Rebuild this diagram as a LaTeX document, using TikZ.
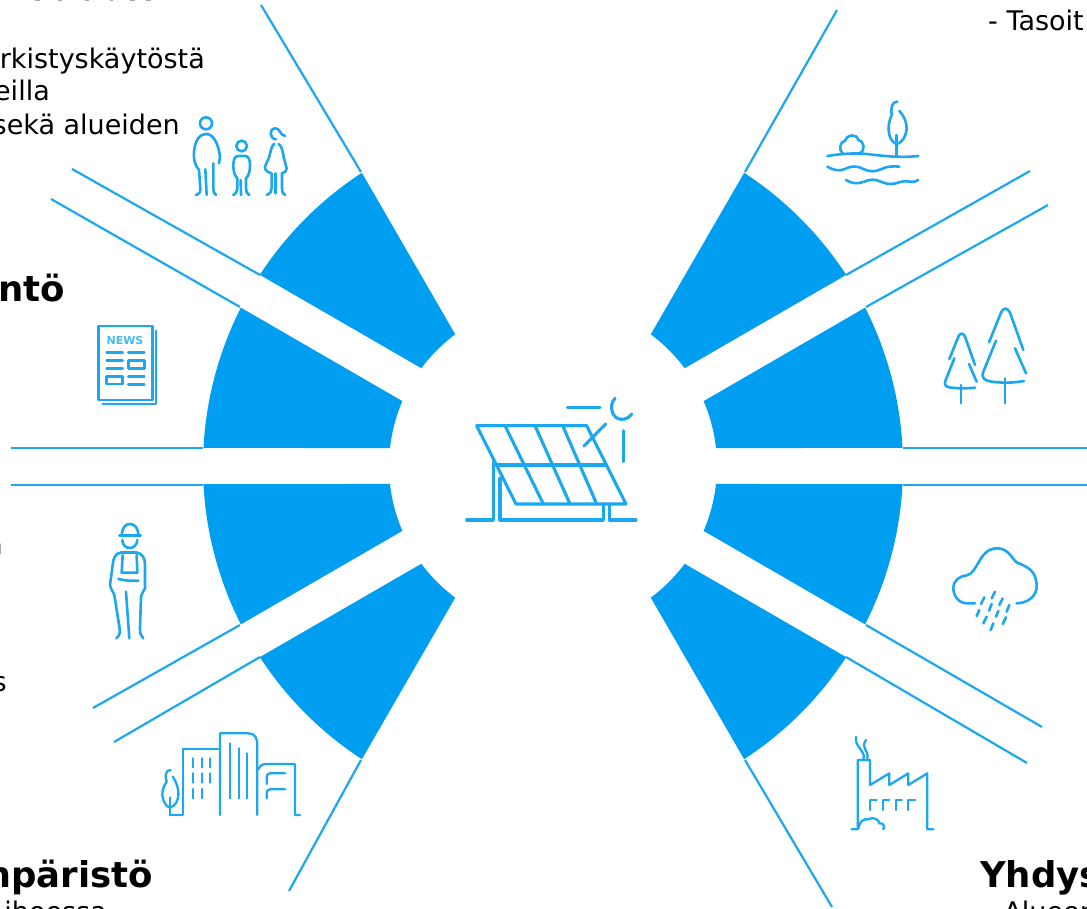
\documentclass[tikz,border=0pt]{standalone}
\usepackage{fontspec}
\setmainfont{DejaVu Sans}
\definecolor{wedgeblue}{RGB}{0,158,241}
\definecolor{lineblue}{RGB}{28,168,240}
\tikzset{
  ray/.style={draw=lineblue,line width=2.2pt},
  icon/.style={draw=lineblue,line width=2.6pt,line cap=round,line join=round},
  thinicon/.style={draw=lineblue,line width=2.3pt,line cap=round,line join=round},
  panelicon/.style={draw=lineblue,line width=3.1pt,line cap=round,line join=round},
  body/.style={inner sep=0pt,font=\fontsize{27}{27}\selectfont,text=black},
  head/.style={inner sep=0pt,font=\fontsize{35.5}{35.5}\selectfont\bfseries,text=black},
  z/.style={shift={#1},scale=0.33333}
}
\newcommand{\sectorpair}{%
  \fill[wedgeblue] plot[domain=213.1:236.9,samples=30] ({350*cos(\x)},{350*sin(\x)})
    -- plot[domain=233.4:216.6,samples=20] ({164*cos(\x)},{164*sin(\x)}) -- cycle;
  \fill[wedgeblue] plot[domain=182.95:206.9,samples=30] ({350*cos(\x)},{350*sin(\x)})
    -- plot[domain=203.3:186.3,samples=20] ({164*cos(\x)},{164*sin(\x)}) -- cycle;
}
\begin{document}
\begin{tikzpicture}[x=1pt,y=-1pt]
\clip (0,0) rectangle (1087,909);
\fill[white] (0,0) rectangle (1087,909);
% sectors
\begin{scope}[shift={(553,466)}]\sectorpair\end{scope}
\begin{scope}[shift={(553,466)},xscale=-1]\sectorpair\end{scope}
\begin{scope}[shift={(553,466)},yscale=-1]\sectorpair\end{scope}
\begin{scope}[shift={(553,466)},xscale=-1,yscale=-1]\sectorpair\end{scope}
% rays
\draw[ray] (361,172) -- (261,5);
\draw[ray] (260,275) -- (72,169);
\draw[ray] (240,307) -- (51,199);
\draw[ray] (203,448) -- (11,448);
\draw[ray] (203,485) -- (11,485);
\draw[ray] (240,625) -- (93,708);
\draw[ray] (260,657) -- (114,742);
\draw[ray] (361,760) -- (289,891);
\draw[ray] (745,172) -- (837,10);
\draw[ray] (846,275) -- (1030,171);
\draw[ray] (866,307) -- (1048,205);
\draw[ray] (903,448) -- (1087,448);
\draw[ray] (903,485) -- (1087,485);
\draw[ray] (866,625) -- (1042,727);
\draw[ray] (846,657) -- (1027,763);
\draw[ray] (745,760) -- (832,907);
% solar panel
\begin{scope}[z={(440,380)}]
\draw[panelicon] (110,137) -- (440,137) -- (558,372) -- (228,372) -- cycle;
\draw[panelicon] (168,255) -- (498,255);
\draw[panelicon] (195,137) -- (310,372) (285,137) -- (390,372) (368,137) -- (470,372);
\draw[panelicon] (80,420) -- (160,420) -- (160,245);
\draw[panelicon] (180,295) -- (180,420) -- (490,420) -- (490,372);
\draw[panelicon] (508,372) -- (508,420) -- (588,420);
\draw[panelicon] (382,82) -- (480,82);
\draw[panelicon] (525,55) .. controls (505,75) and (515,118) .. (545,118) .. controls (558,118) and (568,112) .. (575,102);
\draw[panelicon] (497,132) -- (432,198);
\draw[panelicon] (550,152) -- (550,245);
\end{scope}
% people
\begin{scope}[z={(0,0)}]
\draw[icon] (618,370) circle (18);
\draw[icon] (588,585) .. controls (598,582) and (602,575) .. (601,565) -- (597,510) .. controls (585,495) and (580,480) .. (582,455) .. controls (585,420) and (600,402) .. (618,402) .. controls (640,402) and (655,430) .. (660,470) -- (657,490);
\draw[icon] (640,490) -- (640,565) .. controls (640,575) and (642,582) .. (648,585);
\draw[icon] (616,508) -- (620,585);
\draw[icon] (725,438) circle (16);
\draw[icon] (700,585) .. controls (708,582) and (712,575) .. (712,565) -- (712,535) .. controls (702,525) and (700,510) .. (700,495) .. controls (700,478) and (705,468) .. (715,468) -- (735,468) .. controls (745,468) and (750,478) .. (750,495) .. controls (750,510) and (748,525) .. (738,535) -- (738,565) .. controls (738,575) and (740,582) .. (748,585);
\draw[icon] (722,540) -- (723,585);
\draw[icon] (828,418) .. controls (808,416) and (806,386) .. (826,385) .. controls (840,384) and (838,404) .. (855,408);
\draw[icon] (822,432) .. controls (812,440) and (812,460) .. (806,475) -- (795,500) .. controls (792,510) and (805,518) .. (815,520) -- (815,565) .. controls (815,575) and (810,582) .. (801,585);
\draw[icon] (836,432) .. controls (848,440) and (848,460) .. (852,475) -- (860,505) .. controls (860,512) and (855,518) .. (846,520) -- (846,565) .. controls (846,575) and (848,582) .. (855,585);
\draw[icon] (826,520) -- (826,580);
\end{scope}
% landscape
\begin{scope}[z={(800,0)}]
\draw[icon] (82,468) .. controls (120,462) and (160,458) .. (200,462) .. controls (250,468) and (300,474) .. (355,468);
\draw[icon] (128,460) .. controls (115,450) and (120,425) .. (135,422) .. controls (138,405) and (170,398) .. (175,420) .. controls (195,425) and (195,452) .. (180,460);
\draw[icon] (292,305) .. controls (275,305) and (272,325) .. (275,345) .. controls (268,360) and (262,385) .. (268,405) .. controls (272,420) and (282,430) .. (290,432) .. controls (305,430) and (318,410) .. (320,385) .. controls (320,365) and (310,345) .. (298,333);
\draw[icon] (290,405) -- (290,470);
\draw[icon] (82,500) .. controls (100,510) and (115,515) .. (135,507) .. controls (155,497) and (170,497) .. (190,507) .. controls (210,516) and (225,516) .. (245,507) .. controls (260,499) and (280,498) .. (298,500);
\draw[icon] (138,540) .. controls (155,550) and (170,553) .. (190,546) .. controls (210,537) and (225,537) .. (245,546) .. controls (265,554) and (280,554) .. (300,546) .. controls (320,538) and (340,553) .. (355,540);
\end{scope}
% trees
\begin{scope}[z={(920,290)}]
\draw[icon] (207,157) -- (243,68) .. controls (250,52) and (262,52) .. (270,68) -- (310,180);
\draw[icon] (228,152) -- (190,245) .. controls (182,265) and (195,272) .. (215,275) .. controls (250,280) and (285,278) .. (312,273);
\draw[icon] (285,175) -- (318,250);
\draw[icon] (255,265) -- (255,340);
\draw[icon] (88,207) -- (115,140) .. controls (120,128) and (130,128) .. (135,140) -- (165,225);
\draw[icon] (103,205) -- (77,270) .. controls (70,288) and (80,292) .. (95,293) .. controls (120,296) and (145,295) .. (165,293);
\draw[icon] (147,222) -- (170,275);
\draw[icon] (123,285) -- (123,340);
\end{scope}
% cloud
\begin{scope}[z={(920,530)}]
\draw[icon] (165,220) -- (140,220) .. controls (115,220) and (100,195) .. (100,175) .. controls (100,150) and (120,138) .. (140,136) .. controls (175,130) and (175,55) .. (232,55) .. controls (265,55) and (275,85) .. (290,97) .. controls (320,110) and (350,120) .. (350,170) .. controls (350,200) and (320,220) .. (290,220);
\draw[icon] (225,185) -- (215,205) (193,202) -- (183,222) (248,205) -- (238,225)
 (215,222) -- (207,242) (178,240) -- (170,258) (268,225) -- (260,245)
 (235,243) -- (228,260) (200,260) -- (190,280) (258,262) -- (248,282) (220,280) -- (212,300);
\end{scope}
% factory
\begin{scope}[z={(830,720)}]
\draw[thinicon] (65,328) -- (83,328) -- (83,120) -- (120,120) -- (120,195) -- (178,160) -- (178,195) -- (235,160) -- (235,195) -- (292,160) -- (292,328) -- (310,328);
\draw[thinicon] (120,270) -- (120,240) -- (140,240) (158,270) -- (158,240) -- (178,240) (197,270) -- (197,240) -- (215,240) (235,270) -- (235,240) -- (255,240);
\draw[thinicon] (100,118) .. controls (110,95) and (72,80) .. (78,50);
\draw[thinicon] (112,115) .. controls (118,90) and (90,85) .. (108,60);
\draw[thinicon] (85,325) .. controls (88,305) and (100,295) .. (115,298) .. controls (130,288) and (148,300) .. (148,310) .. controls (160,308) and (165,318) .. (160,328);
\end{scope}
% buildings
\begin{scope}[z={(0,710)}]
\draw[thinicon] (510,315) -- (548,315) -- (548,117) -- (660,117);
\draw[thinicon] (660,315) -- (660,70) -- (745,70) .. controls (765,70) and (772,85) .. (772,105) -- (772,315);
\draw[thinicon] (775,178) .. controls (780,168) and (785,162) .. (800,162) -- (885,162) -- (885,315) -- (900,315);
\draw[thinicon] (580,145) -- (580,172) (605,145) -- (605,172) (630,145) -- (630,172)
 (580,190) -- (580,218) (605,190) -- (605,218) (630,190) -- (630,218)
 (580,237) -- (580,265) (605,237) -- (605,265);
\draw[thinicon] (690,100) -- (690,265) (716,115) -- (716,265) (742,130) -- (742,265);
\draw[thinicon] (855,190) -- (810,190) .. controls (803,190) and (800,195) .. (800,202) -- (800,222);
\draw[thinicon] (855,238) -- (810,238) .. controls (803,238) and (800,243) .. (800,250) -- (800,265);
\draw[thinicon] (512,180) .. controls (495,180) and (495,200) .. (500,215) .. controls (490,230) and (482,250) .. (490,270) .. controls (495,283) and (503,292) .. (511,292) .. controls (525,290) and (537,270) .. (535,245) .. controls (533,225) and (525,210) .. (518,200);
\draw[thinicon] (510,262) -- (510,315);
\end{scope}
% newspaper
\begin{scope}[z={(80,310)}]
\draw[icon] (55,48) rectangle (218,270);
\draw[icon] (228,62) -- (228,282) -- (68,282);
\node[inner sep=0pt,text=lineblue!80,font=\fontsize{11}{11}\selectfont\bfseries] (newslabel) at (135,92) {NEWS};
\draw[icon] (80,127) -- (128,127) (145,127) -- (193,127) (80,151) -- (128,151) (80,175) -- (128,175) (145,200) -- (193,200) (145,224) -- (193,224);
\draw[icon] (145,151) rectangle (193,176) (80,200) rectangle (128,222);
\end{scope}
% worker
\begin{scope}[z={(0,510)}]
\draw[icon] (358,77) -- (422,77);
\draw[icon] (366,77) .. controls (365,55) and (375,42) .. (390,42) .. controls (405,42) and (415,55) .. (415,77);
\draw[icon] (367,90) .. controls (368,122) and (410,122) .. (412,90);
\draw[icon] (362,128) .. controls (345,130) and (340,145) .. (338,165) -- (330,225) .. controls (332,238) and (340,245) .. (343,255) -- (358,350) .. controls (362,368) and (358,378) .. (349,385);
\draw[icon] (410,128) .. controls (428,130) and (435,145) .. (435,165) -- (435,235) .. controls (430,245) and (425,250) .. (423,262) -- (420,355) .. controls (420,372) and (423,378) .. (430,385);
\draw[icon] (368,135) -- (365,188) -- (412,188) -- (410,135);
\draw[icon] (362,128) -- (410,128);
\draw[icon] (355,207) .. controls (375,212) and (395,213) .. (415,212);
\draw[icon] (378,245) -- (388,385);
\end{scope}
% clipped slivers of a text line at the upper edge
\draw[gray!70,line width=1.2pt] (35,0.4) -- (40,0.4) (58,0.4) -- (62,0.4) (85,0.4) -- (89,0.4) (110,0.4) -- (113,0.4) (130,0.4) -- (135,0.4) (146,0.4) -- (151,0.4);
% text
\node[body,anchor=base east] (t1) at (205,69) {rkistyskäytöstä};
\node[body,anchor=base east] (t2) at (50,101) {eilla};
\node[body,anchor=base east] (t3) at (180,135) {sekä alueiden};
\node[head,anchor=base east] (t4) at (65,302) {ntö};
\node[body,anchor=base east] (t5) at (3,554) {a};
\node[body,anchor=base east] (t6) at (7,691) {s};
\node[head,anchor=base east] (t7) at (153,887) {mpäristö};
\node[body,anchor=base east] (t8) at (107,921) {ihoessa};
\node[body,anchor=base west] (t9) at (988,31) {- Tasoit};
\node[head,anchor=base west] (t10) at (980,887) {Yhdys};
\node[body,anchor=base west] (t11) at (985,921) {- Alueen};
\end{tikzpicture}
\end{document}
